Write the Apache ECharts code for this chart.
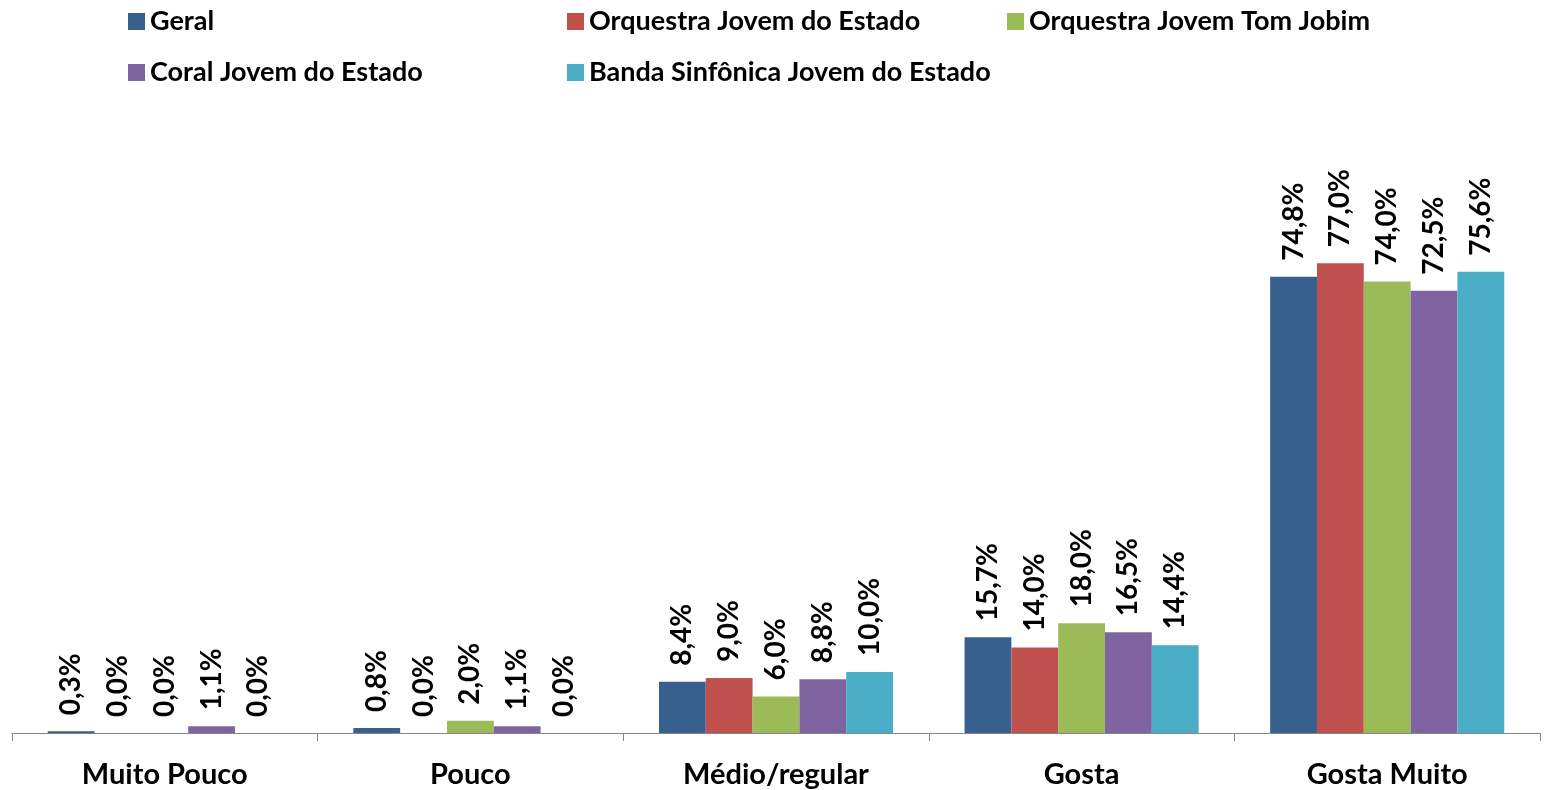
<!DOCTYPE html>
<html>
<head>
<meta charset="utf-8">
<script src="https://cdn.jsdelivr.net/npm/echarts@6/dist/echarts.min.js"></script>
<style>
  html, body { margin: 0; padding: 0; background: #fff; }
  #chart { width: 1546px; height: 790px; }
</style>
</head>
<body>
<div id="chart"></div>
<script>
const categories = ["Muito Pouco", "Pouco", "Médio/regular", "Gosta", "Gosta Muito"];
const seriesNames = ["Geral", "Orquestra Jovem do Estado", "Orquestra Jovem Tom Jobim", "Coral Jovem do Estado", "Banda Sinfônica Jovem do Estado"];
const colors = ["#37608f", "#c0504d", "#9bbb59", "#8064a2", "#4bacc6"];

const geral = [0.3, 0.8, 8.4, 15.7, 74.8];
const orquestraEstado = [0.0, 0.0, 9.0, 14.0, 77.0];
const orquestraTomJobim = [0.0, 2.0, 6.0, 18.0, 74.0];
const coralEstado = [1.1, 1.1, 8.8, 16.5, 72.5];
const bandaSinfonica = [0.0, 0.0, 10.0, 14.4, 75.6];

const values = [geral, orquestraEstado, orquestraTomJobim, coralEstado, bandaSinfonica];
const fontFamily = "Lato, 'Liberation Sans', sans-serif";

const chart = echarts.init(document.getElementById("chart"));

// legend laid out as a 3-column grid, one legend per item
const legendSpots = [[128, 8], [567, 8], [1007, 8], [128, 59], [567, 59]];
const legends = seriesNames.map((name, i) => ({
  data: [name],
  left: legendSpots[i][0],
  top: legendSpots[i][1],
  padding: 0,
  itemWidth: 17,
  itemHeight: 17,
  icon: "rect",
  textStyle: { fontFamily, fontWeight: "bold", fontSize: 27, color: "#000" }
}));

const option = {
  animation: false,
  color: colors,
  legend: legends,
  grid: { left: 12, right: 6, top: 123, bottom: 57, containLabel: false },
  xAxis: {
    type: "category",
    data: categories,
    axisLine: { lineStyle: { color: "#868686", width: 1 } },
    axisTick: { show: true, length: 8, lineStyle: { color: "#868686" } },
    axisLabel: {
      fontFamily,
      fontWeight: "bold",
      fontSize: 29,
      color: "#000",
      margin: 27
    }
  },
  yAxis: {
    type: "value",
    min: 0,
    max: 100,
    show: false
  },
  series: seriesNames.map((name, i) => ({
    name,
    type: "bar",
    data: values[i],
    barGap: "0%",
    barCategoryGap: "23.4%",
    itemStyle: { color: colors[i] },
    label: {
      show: true,
      position: "top",
      rotate: 90,
      align: "left",
      verticalAlign: "middle",
      distance: 16,
      fontFamily,
      fontWeight: "bold",
      fontSize: 28,
      color: "#000",
      formatter: (p) => p.value.toFixed(1).replace(".", ",") + "%"
    }
  }))
};

chart.setOption(option);
</script>
</body>
</html>
